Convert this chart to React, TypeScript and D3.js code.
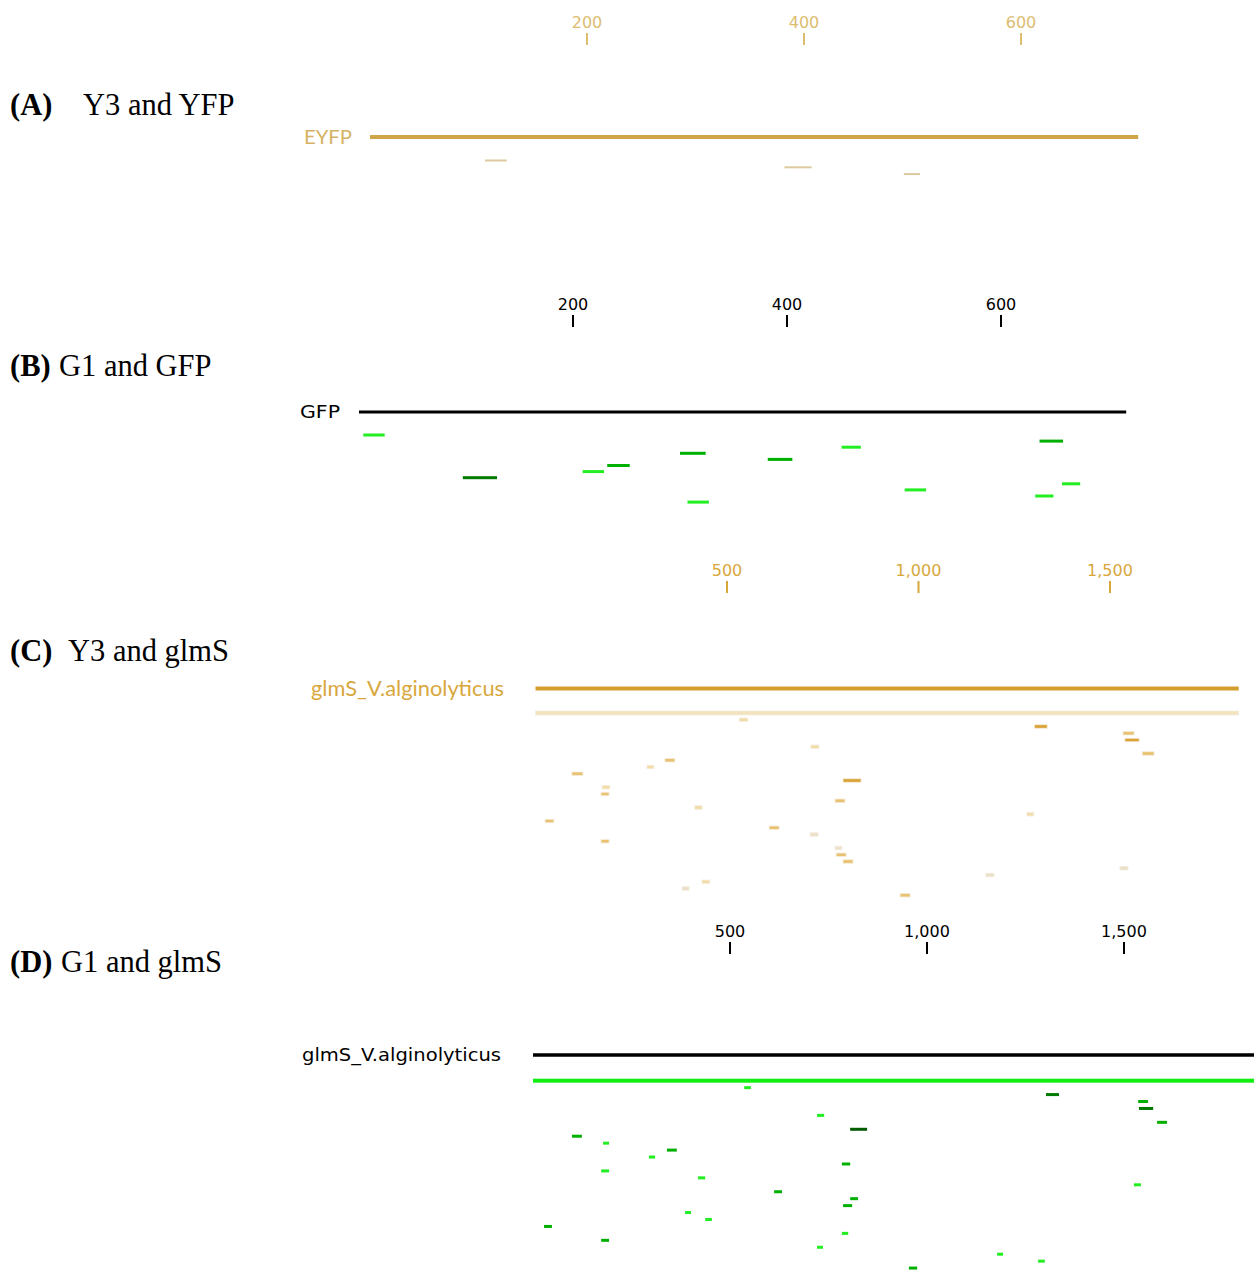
import * as d3 from "d3";

// hit = [start, end, score level]
const eyfpLength = 708;
const gfpLength = 717;
const glmsLength = 1836;

const ticksSmall = [200, 400, 600];
const ticksLarge = [500, 1000, 1500];

const hitsA: [number, number, number][] = [
  [106, 126, 1],
  [382, 407, 1],
  [492, 507, 1],
];

const hitsB: [number, number, number][] = [
  [4, 24, 1],
  [636, 658, 2],
  [451, 469, 1],
  [300, 324, 2],
  [382, 405, 2],
  [232, 253, 2],
  [209, 229, 1],
  [97, 129, 3],
  [657, 674, 1],
  [510, 530, 1],
  [632, 649, 1],
  [307, 327, 1],
];

const hitsC: [number, number, number][] = [
  [0, 1836, 1],
  [532, 554, 1],
  [1303, 1336, 3],
  [1534, 1563, 2],
  [1539, 1576, 3],
  [719, 740, 1],
  [1584, 1615, 2],
  [338, 364, 2],
  [291, 309, 1],
  [95, 124, 2],
  [803, 850, 3],
  [174, 194, 1],
  [171, 192, 2],
  [782, 808, 2],
  [416, 435, 1],
  [1283, 1301, 1],
  [25, 48, 2],
  [610, 636, 2],
  [717, 738, 0],
  [171, 192, 2],
  [782, 800, 0],
  [785, 811, 2],
  [803, 829, 2],
  [1526, 1547, 0],
  [1176, 1197, 0],
  [435, 455, 1],
  [383, 401, 0],
  [952, 978, 2],
];

const hitsD: [number, number, number][] = [
  [0, 1836, 1],
  [536, 553, 1],
  [1302, 1335, 3],
  [1536, 1561, 2],
  [1538, 1574, 3],
  [721, 739, 1],
  [1584, 1609, 2],
  [805, 848, 4],
  [99, 124, 2],
  [178, 193, 1],
  [340, 365, 2],
  [294, 310, 1],
  [784, 805, 2],
  [173, 193, 1],
  [419, 437, 1],
  [1525, 1543, 1],
  [612, 632, 2],
  [805, 825, 2],
  [787, 810, 2],
  [386, 401, 1],
  [437, 454, 1],
  [28, 48, 2],
  [784, 800, 1],
  [173, 193, 2],
  [721, 736, 1],
  [1178, 1193, 1],
  [1282, 1299, 1],
  [954, 975, 2],
];

const greens = ["#22ee22", "#22ee22", "#00b000", "#007a00", "#005a00"];
const golds = ["#ebe0c8", "#f2dca8", "#e8c270", "#d9a233"];

type Track = {
  title: [string, string];
  titleGap: number;
  titleY: number;
  name: string;
  nameX: number;
  nameW: number;
  nameFont: string;
  nameSize: number;
  length: number;
  ticks: number[];
  x: d3.ScaleLinear<number, number>;
  tickY: number;
  lineY: number;
  lineW: number;
  fullW: number;
  rowY: d3.ScaleLinear<number, number>;
  hits: [number, number, number][];
  barH: number;
  ink: string;
  tickInk: string;
  lineInk: string;
  hitColor: (lvl: number, i: number) => string;
  hitStroke?: string;
};

const tracks: Track[] = [
  {
    title: ["(A)", "Y3 and YFP"], titleGap: 83, titleY: 115,
    name: "EYFP", nameX: 304, nameW: 48, nameFont: "Lato", nameSize: 20,
    length: eyfpLength, ticks: ticksSmall,
    x: d3.scaleLinear().domain([200, 600]).range([587, 1021]),
    tickY: 22, lineY: 137, lineW: 4, fullW: 0,
    rowY: d3.scaleLinear().domain([0, 1]).range([160.5, 167.3]),
    hits: hitsA, barH: 2,
    ink: "#d5b263", tickInk: "#dcbd70", lineInk: "#cfa548",
    hitColor: () => "#dccaa0",
  },
  {
    title: ["(B)", "G1 and GFP"], titleGap: 59, titleY: 376,
    name: "GFP", nameX: 300, nameW: 40, nameFont: "DejaVu Sans", nameSize: 17,
    length: gfpLength, ticks: ticksSmall,
    x: d3.scaleLinear().domain([200, 600]).range([573, 1001]),
    tickY: 304, lineY: 412, lineW: 3, fullW: 0,
    rowY: d3.scaleLinear().domain([0, 1]).range([435, 441.1]),
    hits: hitsB, barH: 3,
    ink: "#000", tickInk: "#000", lineInk: "#000",
    hitColor: (l) => greens[l],
  },
  {
    title: ["(C)", "Y3 and glmS"], titleGap: 68, titleY: 661,
    name: "glmS_V.alginolyticus", nameX: 311, nameW: 193, nameFont: "Lato", nameSize: 21,
    length: glmsLength, ticks: ticksLarge,
    x: d3.scaleLinear().domain([500, 1500]).range([727, 1110]),
    tickY: 570, lineY: 688.5, lineW: 4, fullW: 4,
    rowY: d3.scaleLinear().domain([0, 1]).range([713, 719.75]),
    hits: hitsC, barH: 3.5,
    ink: "#d8a73c", tickInk: "#d8a73c", lineInk: "#d49e2e",
    hitColor: (l, i) => (i === 0 ? "#f3e3bf" : golds[l]),
    hitStroke: "#f4ecdc",
  },
  {
    title: ["(D)", "G1 and glmS"], titleGap: 61, titleY: 972,
    name: "glmS_V.alginolyticus", nameX: 302, nameW: 199, nameFont: "DejaVu Sans", nameSize: 18,
    length: glmsLength, ticks: ticksLarge,
    x: d3.scaleLinear().domain([500, 1500]).range([730, 1124]),
    tickY: 931, lineY: 1055, lineW: 3.5, fullW: 4,
    rowY: d3.scaleLinear().domain([0, 1]).range([1080.7, 1087.64]),
    hits: hitsD, barH: 3,
    ink: "#000", tickInk: "#000", lineInk: "#000",
    hitColor: (l, i) => (i === 0 ? "#11ee11" : greens[l]),
  },
];

const fmt = d3.format(",");

const TrackView = ({ t }: { t: Track }) => (
  <g>
    <text x={10} y={t.titleY} fontFamily="Liberation Serif" fontSize={30.5} fill="#000">
      <tspan fontWeight="bold">{t.title[0]}</tspan>
      <tspan x={t.titleGap}>{t.title[1]}</tspan>
    </text>
    {t.ticks.map((v) => (
      <g key={v} transform={`translate(${t.x(v)},0)`}>
        <text y={t.tickY + 5.5} textAnchor="middle" fontFamily="DejaVu Sans" fontSize={16} fill={t.tickInk}>
          {fmt(v)}
        </text>
        <line y1={t.tickY + 11} y2={t.tickY + 23} stroke={t.tickInk} strokeWidth={2} />
      </g>
    ))}
    <text
      x={t.nameX}
      y={t.lineY}
      dy="0.35em"
      fontFamily={t.nameFont}
      fontSize={t.nameSize}
      fill={t.ink}
      textLength={t.nameW}
      lengthAdjust="spacingAndGlyphs"
    >
      {t.name}
    </text>
    <line x1={t.x(0)} x2={t.x(t.length)} y1={t.lineY} y2={t.lineY} stroke={t.lineInk} strokeWidth={t.lineW} />
    {t.hits.map(([s, e, lvl], i) => {
      const h = i === 0 && t.fullW ? t.fullW : t.barH;
      return (
        <rect
          key={i}
          x={t.x(s)}
          width={Math.max(1, t.x(e) - t.x(s))}
          y={t.rowY(i) - h / 2}
          height={h}
          fill={t.hitColor(lvl, i)}
          stroke={t.hitStroke ?? "none"}
          strokeWidth={t.hitStroke ? 0.8 : 0}
        />
      );
    })}
  </g>
);

export default function App() {
  return (
    <svg
      width={1254}
      height={1277}
      style={{ position: "absolute", left: 0, top: 0, background: "#fff" }}
    >
      {tracks.map((t, i) => (
        <TrackView key={i} t={t} />
      ))}
    </svg>
  );
}
